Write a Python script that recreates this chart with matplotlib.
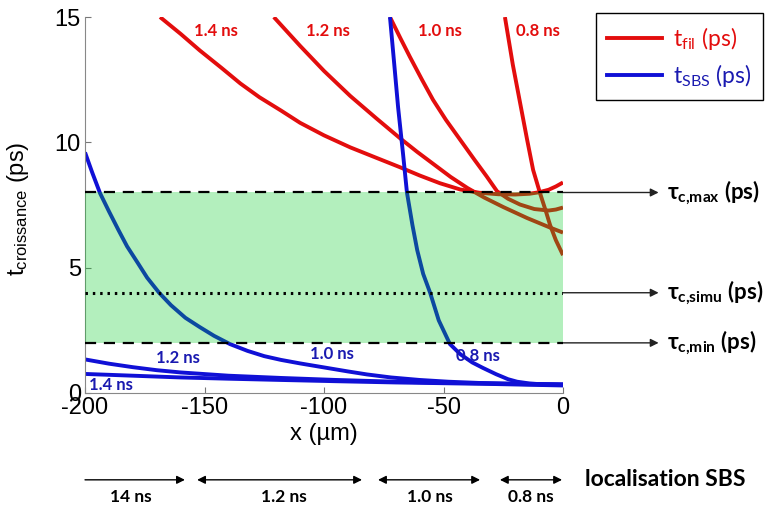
import matplotlib.pyplot as plt
import numpy as np

plt.rcParams['axes.unicode_minus'] = False

# t_fil curves (red): x in um, t in ps
fil_14_x = [-168.6, -160, -152, -143, -135, -127, -118, -110, -100, -89, -78, -68, -60, -51.5, -43, -35, -27, -20, -14, -10, -6, -3, 0]
fil_14_y = [15, 14.33, 13.67, 12.98, 12.35, 11.8, 11.27, 10.78, 10.28, 9.8, 9.38, 9.0, 8.68, 8.37, 8.12, 7.99, 7.93, 7.92, 7.95, 8.01, 8.11, 8.24, 8.4]
fil_12_x = [-121, -110, -100, -89, -78, -68, -61, -54, -47, -40, -33, -25, -15, -5.4, 0]
fil_12_y = [15, 13.85, 12.85, 11.85, 10.95, 10.15, 9.62, 9.12, 8.62, 8.18, 7.8, 7.42, 6.98, 6.6, 6.4]
fil_10_x = [-72.4, -68, -64, -59, -54.4, -49, -43, -37, -32, -27.6, -23, -18, -12, -6, -3, 0]
fil_10_y = [15, 14.15, 13.4, 12.5, 11.7, 10.9, 10.1, 9.3, 8.65, 8.05, 7.75, 7.52, 7.34, 7.28, 7.32, 7.4]
fil_08_x = [-24.3, -21, -18, -15, -12.5, -9.6, -7, -5.4, -3, 0]
fil_08_y = [15, 13.1, 11.6, 10.1, 8.9, 7.97, 7.2, 6.7, 6.1, 5.5]

# t_SBS curves (blue)
sbs_14_x = [-200, -180, -160, -140, -118, -95, -70, -50, -30, -15, 0]
sbs_14_y = [0.76, 0.69, 0.62, 0.57, 0.52, 0.47, 0.42, 0.39, 0.36, 0.33, 0.3]
sbs_12_x = [-200, -190, -180, -170, -160, -140, -118, -95, -70, -50, -30, -15, 0]
sbs_12_y = [1.34, 1.17, 1.03, 0.91, 0.82, 0.69, 0.6, 0.52, 0.45, 0.41, 0.38, 0.35, 0.33]
sbs_10_x = [-200, -197, -193.7, -190, -186, -182.4, -178, -174, -169, -164, -158, -152, -146, -139.3,
            -132, -125, -118, -110, -100, -90, -82, -72, -60, -48, -35, -20, 0]
sbs_10_y = [9.6, 8.8, 7.97, 7.25, 6.5, 5.85, 5.2, 4.6, 4.0, 3.5, 3.0, 2.63, 2.28, 1.95,
            1.68, 1.47, 1.32, 1.18, 1.02, 0.86, 0.74, 0.62, 0.52, 0.45, 0.4, 0.37, 0.35]
sbs_08_x = [-72.4, -70.5, -69, -67, -65.3, -63, -61, -58.5, -55.6, -52, -47.3, -43, -38, -33.5, -28, -23, -19.2, -14, -8, 0]
sbs_08_y = [15, 13.0, 11.4, 9.6, 8.0, 6.7, 5.7, 4.75, 4.0, 2.9, 1.95, 1.55, 1.22, 1.0, 0.75, 0.55, 0.45, 0.38, 0.34, 0.32]

tau_max = 8
tau_simu = 4
tau_min = 2

# localisation SBS segments (x range in um)
loc_start = [-200, -153.1, -77.4, -26.4]
loc_end = [-158.2, -84.1, -34.7, -0.4]
loc_labels = ['14 ns', '1.2 ns', '1.0 ns', '0.8 ns']
loc_text_x = [-181, -117, -55.5, -13.5]

red = '#e30d0d'
blue = '#1010d6'
lab_blue = '#1a1ab0'
lab_font = ['Lato', 'DejaVu Sans']

fig = plt.figure(figsize=(7.8, 5.08), dpi=100)
ax = fig.add_axes([0.109, 0.2264, 0.6128, 0.740])

kw = dict(lw=2.8, solid_capstyle='butt', solid_joinstyle='round', zorder=2)
ax.plot(fil_14_x, fil_14_y, color=red, **kw)
ax.plot(fil_12_x, fil_12_y, color=red, **kw)
ax.plot(fil_10_x, fil_10_y, color=red, **kw)
ax.plot(fil_08_x, fil_08_y, color=red, **kw)
ax.plot(sbs_14_x, sbs_14_y, color=blue, **kw)
ax.plot(sbs_12_x, sbs_12_y, color=blue, **kw)
ax.plot(sbs_10_x, sbs_10_y, color=blue, **kw)
ax.plot(sbs_08_x, sbs_08_y, color=blue, **kw)

# shaded band drawn over the curves
ax.fill_between([-200, 0], tau_min, tau_max, color='#05cd26', alpha=0.3, lw=0, zorder=3)
ax.plot([-200, 0], [tau_max, tau_max], color='black', lw=1.6, ls=(0, (5, 3.5)), zorder=4)
ax.plot([-200, 0], [tau_min, tau_min], color='black', lw=1.6, ls=(0, (5, 3.5)), zorder=4)
ax.plot([-200, 0], [tau_simu, tau_simu], color='black', lw=2.2, ls=(0, (0.8, 1.6)), zorder=4)

# arrows to the tau labels
ytr = ax.get_yaxis_transform()
tau_vals = [tau_max, tau_simu, tau_min]
tau_names = ['c{,}max', 'c{,}simu', 'c{,}min']
for v, n in zip(tau_vals, tau_names):
    ax.annotate('', xy=(1.2, v), xytext=(1.0, v), xycoords=ytr, textcoords=ytr,
                annotation_clip=False,
                arrowprops=dict(arrowstyle='-|>', color='#222222', lw=1, mutation_scale=12,
                                shrinkA=0, shrinkB=0))
    ax.text(1.218, v, 'τ$_{\\mathregular{' + n + '}}$ (ps)', transform=ytr, ha='left', va='center',
            fontsize=16, fontweight='bold', family=lab_font, clip_on=False)

# curve labels
lk = dict(fontsize=12, fontweight='bold', family=lab_font, ha='center', va='center')
ax.text(-145.2, 14.46, '1.4 ns', color=red, **lk)
ax.text(-98.3, 14.46, '1.2 ns', color=red, **lk)
ax.text(-51.5, 14.46, '1.0 ns', color=red, **lk)
ax.text(-10.5, 14.46, '0.8 ns', color=red, **lk)
ax.text(-161, 1.39, '1.2 ns', color=lab_blue, **lk)
ax.text(-96.7, 1.55, '1.0 ns', color=lab_blue, **lk)
ax.text(-35.6, 1.47, '0.8 ns', color=lab_blue, **lk)
ax.text(-189, 0.3, '1.4 ns', color=lab_blue, **lk)

# localisation SBS arrows under the axis
xtr = ax.get_xaxis_transform()
for i in range(len(loc_labels)):
    style = '-|>' if i == 0 else '<|-|>'
    ax.annotate('', xy=(loc_end[i], -0.231), xytext=(loc_start[i], -0.231), xycoords=xtr, textcoords=xtr,
                annotation_clip=False,
                arrowprops=dict(arrowstyle=style, color='black', lw=1, mutation_scale=12,
                                shrinkA=0, shrinkB=0))
    ax.text(loc_text_x[i], -0.278, loc_labels[i], transform=xtr, ha='center', va='center',
            fontsize=12.5, fontweight='bold', family=lab_font, clip_on=False)
ax.text(1.046, -0.231, 'localisation SBS', transform=ax.transAxes, ha='left', va='center',
        fontsize=16.5, fontweight='bold', family=lab_font, clip_on=False)

ax.set_xlim(-200, 0)
ax.set_ylim(0, 15)
ax.set_xticks([-200, -150, -100, -50, 0])
ax.set_yticks([0, 5, 10, 15])
ax.tick_params(direction='in', length=4, color='#777777', labelsize=17, pad=3)
for lab in ax.get_xticklabels() + ax.get_yticklabels():
    lab.set_family('Liberation Sans')
ax.spines['top'].set_visible(False)
ax.spines['right'].set_visible(False)
ax.spines['left'].set_color('#888888')
ax.spines['bottom'].set_color('#888888')

ax.set_xlabel('x (µm)', fontsize=17, family='Liberation Sans', labelpad=3)
ax.set_ylabel('$\\mathregular{t_{croissance}}$ (ps)', fontsize=17, family='Liberation Sans')
ax.yaxis.set_label_coords(-0.113, 0.49)

h1, = ax.plot([], [], color=red, lw=2.8)
h2, = ax.plot([], [], color=blue, lw=2.8)
leg = fig.legend([h1, h2], ['t$_{\\mathregular{fil}}$ (ps)', 't$_{\\mathregular{SBS}}$ (ps)'],
                 loc='upper left', bbox_to_anchor=(0.764, 0.974), fancybox=False,
                 edgecolor='black', framealpha=1, handlelength=2.4, handletextpad=0.45,
                 labelspacing=0.45, borderpad=0.5, borderaxespad=0,
                 prop={'family': lab_font, 'size': 16.5})
leg.get_frame().set_linewidth(1.0)
leg.get_texts()[0].set_color(red)
leg.get_texts()[1].set_color(lab_blue)

fig.savefig('out.png', dpi=100)
